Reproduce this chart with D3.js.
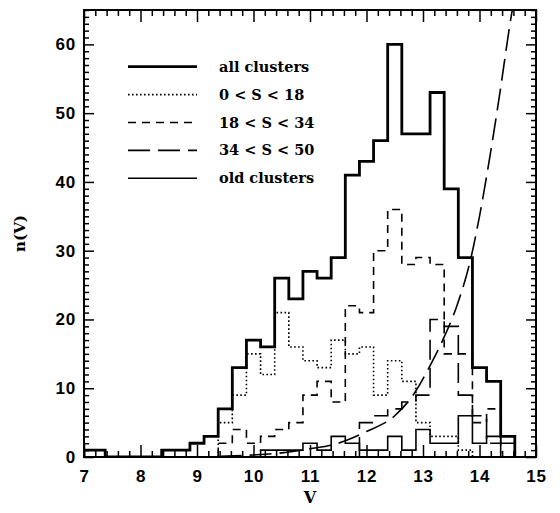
<!DOCTYPE html>
<html>
<head>
<meta charset="utf-8">
<script src="https://cdn.jsdelivr.net/npm/d3@7"></script>
<style>
  body { margin: 0; background: #fff; }
  svg { display: block; }
</style>
</head>
<body>
<svg id="chart" width="560" height="513"></svg>
<script>
// ---- data (bin centres V = 7.0, 7.25, ... 15.0; bin width 0.25) ----
const binCenters = d3.range(33).map(k => 7 + 0.25 * k);
const allClusters = [1,1,0,0,0,0,1,1,2,3,7,13,17,16,26,23,27,26,29,41,43,46,60,47,47,53,39,29,13,11,3,0,0];
const s0to18     = [0,0,0,0,0,0,0,0,0,0,5,9,15,12,21,16,14,13,17,15,16,9,14,11,5,3,3,1,0,0,0,0,0];
const s18to34    = [0,0,0,0,0,0,0,0,0,0,2,4,2,3,4,5,9,11,8,22,21,30,36,28,29,28,15,15,5,7,0,0,0];
const s34to50    = [0,0,0,0,0,0,0,0,0,0,0,0,0,0,0,0,0,0,0,0,5,6,7,8,9,20,19,9,6,2,0,0,0];
const oldClusters= [1,1,0,0,0,0,0,0,0,0,0,0,0,1,1,1,2,1,3,2,1,1,3,1,4,2,2,6,2,3,2,0,0];
// long-dashed curve
const curveV = [9.4, 10.0, 10.5, 11.0, 11.5, 12.0, 12.5, 12.85, 13.1, 13.35, 13.6, 13.85, 14.0, 14.17, 14.38, 14.53, 14.62];
const curveN = [0.1, 0.3, 0.6, 1.2, 2.0, 3.7, 6.0, 9.3, 12.9, 17.0, 22.0, 29.0, 35.0, 43.0, 54.0, 62.5, 67.0];
const xMajor = [7,8,9,10,11,12,13,14,15];
const yMajor = [0,10,20,30,40,50,60];
const legendLabels = ["all clusters", "0 < S < 18", "18 < S < 34", "34 < S < 50", "old clusters"];

// ---- layout ----
const svg = d3.select("#chart");
const L = 84, R = 536, T = 10, B = 457;
const x = d3.scaleLinear().domain([7, 15]).range([L, R]);
const y = d3.scaleLinear().domain([0, 65]).range([B, T]);
const binHalf = 0.125;

const styles = [
  {w: 2.8, dash: null},
  {w: 1.6, dash: "1.6,2.4"},
  {w: 1.6, dash: "8,6"},
  {w: 1.6, dash: "20,8"},
  {w: 1.6, dash: null}
];

svg.append("defs").append("clipPath").attr("id", "clip")
  .append("rect").attr("x", L).attr("y", T).attr("width", R - L).attr("height", B - T);

function stepPoints(vals) {
  let first = vals.findIndex(v => v > 0);
  let last = vals.length - 1 - [...vals].reverse().findIndex(v => v > 0);
  const pts = [];
  for (let k = first; k <= last; k++) {
    const lo = Math.max(7, binCenters[k] - binHalf);
    const hi = Math.min(15, binCenters[k] + binHalf);
    if (k === first) pts.push([lo, 0]);
    pts.push([lo, vals[k]]);
    pts.push([hi, vals[k]]);
    if (k === last) pts.push([hi, 0]);
  }
  return pts;
}

const line = d3.line().x(d => x(d[0])).y(d => y(d[1]));
const plot = svg.append("g").attr("clip-path", "url(#clip)");

const seriesList = [allClusters, s0to18, s18to34, s34to50, oldClusters];
[4, 1, 2, 3, 0].forEach(i => {
  plot.append("path")
    .attr("d", line(stepPoints(seriesList[i])))
    .attr("fill", "none")
    .attr("stroke", "#000")
    .attr("stroke-width", styles[i].w)
    .attr("stroke-dasharray", styles[i].dash)
    .attr("stroke-linejoin", "miter")
    .attr("stroke-linecap", "butt");
});

// curve
plot.append("path")
  .attr("d", d3.line().x((d, i) => x(curveV[i])).y((d, i) => y(curveN[i])).curve(d3.curveMonotoneX)(curveV))
  .attr("fill", "none").attr("stroke", "#000").attr("stroke-width", 1.6)
  .attr("stroke-dasharray", "22,8");

// ---- axes ----
const xMinor = d3.range(7, 15.001, 0.2).filter(v => Math.abs(v - Math.round(v)) > 0.01);
const yMinor = d3.range(0, 65.001, 1).filter(v => v % 10 !== 0);
const tickFont = "'Liberation Sans', Arial, sans-serif";

function styleAxis(g) {
  g.select(".domain").remove();
  g.selectAll(".tick line").attr("stroke", "#000").attr("stroke-width", 1.5);
  g.selectAll("text").attr("font-family", tickFont).attr("font-weight", "bold")
    .attr("font-size", 17).attr("letter-spacing", 0.8).attr("fill", "#000");
}

svg.append("g").attr("transform", `translate(0,${B})`)
  .call(d3.axisBottom(x).tickValues(xMajor).tickSize(-12).tickPadding(13).tickFormat(d3.format("d")))
  .call(styleAxis);
svg.append("g").attr("transform", `translate(0,${B})`)
  .call(d3.axisBottom(x).tickValues(xMinor).tickSize(-6).tickFormat(""))
  .call(styleAxis);
svg.append("g").attr("transform", `translate(0,${T})`)
  .call(d3.axisTop(x).tickValues(xMajor).tickSize(-12).tickFormat(""))
  .call(styleAxis);
svg.append("g").attr("transform", `translate(0,${T})`)
  .call(d3.axisTop(x).tickValues(xMinor).tickSize(-6).tickFormat(""))
  .call(styleAxis);

svg.append("g").attr("transform", `translate(${L},0)`)
  .call(d3.axisLeft(y).tickValues(yMajor).tickSize(-10).tickPadding(8).tickFormat(d3.format("d")))
  .call(styleAxis);
svg.append("g").attr("transform", `translate(${L},0)`)
  .call(d3.axisLeft(y).tickValues(yMinor).tickSize(-5).tickFormat(""))
  .call(styleAxis);
svg.append("g").attr("transform", `translate(${R},0)`)
  .call(d3.axisRight(y).tickValues(yMajor).tickSize(-10).tickFormat(""))
  .call(styleAxis);
svg.append("g").attr("transform", `translate(${R},0)`)
  .call(d3.axisRight(y).tickValues(yMinor).tickSize(-5).tickFormat(""))
  .call(styleAxis);

// frame
svg.append("rect").attr("x", L).attr("y", T).attr("width", R - L).attr("height", B - T)
  .attr("fill", "none").attr("stroke", "#000").attr("stroke-width", 2);

// axis titles
const serif = "'DejaVu Serif', 'Liberation Serif', serif";
svg.append("text").attr("x", (L + R) / 2).attr("y", 503).attr("text-anchor", "middle")
  .attr("font-family", serif).attr("font-weight", "bold").attr("font-size", 16).text("V");
svg.append("text").attr("transform", `translate(25,${(T + B) / 2}) rotate(-90)`)
  .attr("text-anchor", "middle")
  .attr("font-family", serif).attr("font-weight", "bold").attr("font-size", 15).text("n(V)");

// legend
const legend = svg.append("g");
legendLabels.forEach((lab, i) => {
  const ly = 66.7 + i * 27.9;
  legend.append("line").attr("x1", 128).attr("x2", 197).attr("y1", ly).attr("y2", ly)
    .attr("stroke", "#000").attr("stroke-width", styles[i].w)
    .attr("stroke-dasharray", i === 3 ? "22,8" : styles[i].dash);
  legend.append("text").attr("x", 219).attr("y", ly + 5)
    .attr("font-family", serif).attr("font-weight", "bold").attr("font-size", 14.5)
    .attr("fill", "#000").text(lab);
});
</script>
</body>
</html>
